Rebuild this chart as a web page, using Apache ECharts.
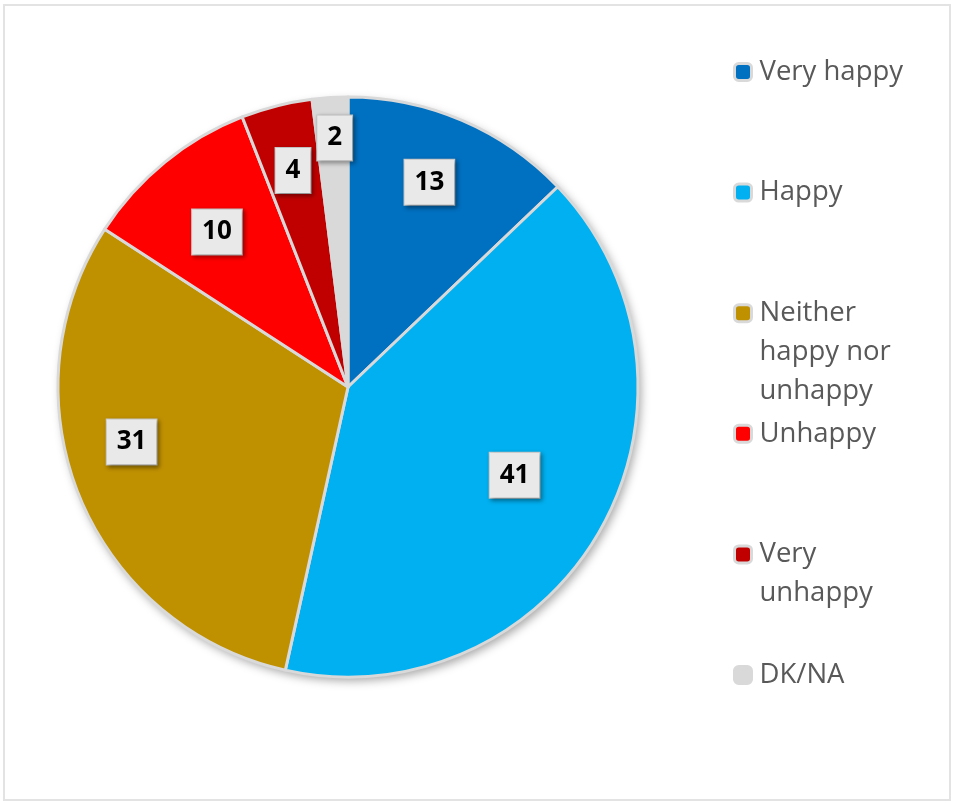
<!DOCTYPE html>
<html>
<head>
<meta charset="utf-8">
<script src="https://cdn.jsdelivr.net/npm/echarts@6/dist/echarts.min.js"></script>
<style>
html,body{margin:0;padding:0;background:#fff;}
#chart{width:953px;height:803px;}
</style>
</head>
<body>
<div id="chart"></div>
<script>
const categories = ['Very happy', 'Happy', 'Neither happy nor unhappy', 'Unhappy', 'Very unhappy', 'DK/NA'];
const legendLabels = ['Very happy', 'Happy', 'Neither\nhappy nor\nunhappy', 'Unhappy', 'Very\nunhappy', 'DK/NA'];
const values = [13, 41, 31, 10, 4, 2];
const colors = ['#0070C0', '#00B0F0', '#BF9000', '#FF0000', '#C00000', '#D9D9D9'];

// label placement styling (fraction of radius, angle shift in degrees)
const labelRadius = [0.76, 0.65, 0.77, 0.70, 0.77, 0.86];
const labelAngleShift = [-1.5, -1.5, 8, -1, 0, 0.5];

const CX = 348, CY = 387, R = 290;
const total = values.reduce((a, b) => a + b, 0);
const midAngles = [];
(function () {
  let acc = 0;
  values.forEach(v => { midAngles.push((acc + v / 2) / total * 360); acc += v; });
})();

const LH = 39;
const legendTop0 = 72, legendStep = 120.6;
const legends = categories.map((name, i) => {
  const lines = legendLabels[i].split('\n');
  const n = lines.length;
  const padded = new Array(n - 1).fill(' ').concat(lines).join('\n');
  const half = (2 * n - 1) * LH / 2;
  return {
    orient: 'vertical',
    left: 733,
    top: legendTop0 + legendStep * i - half,
    padding: 0,
    selectedMode: false,
    itemWidth: 17,
    itemHeight: 17,
    itemGap: 0,
    icon: 'roundRect',
    itemStyle: { borderColor: '#D9D9D9', borderWidth: 3 },
    data: [name],
    formatter: () => padded,
    textStyle: {
      fontFamily: 'Open Sans',
      fontSize: 27.5,
      color: '#595959',
      lineHeight: LH,
      padding: [0, 0, 0, 3]
    }
  };
});

const chart = echarts.init(document.getElementById('chart'), null, { renderer: 'canvas' });
chart.setOption({
  animation: false,
  color: colors,
  graphic: [{
    type: 'rect',
    shape: { x: 4, y: 5, width: 946, height: 795 },
    style: { fill: 'none', stroke: '#E3E3E3', lineWidth: 2 },
    z: -10
  }],
  legend: legends,
  series: [
    {
      type: 'pie',
      center: [CX, CY],
      radius: [0, R],
      silent: true,
      z: 1,
      label: { show: false },
      itemStyle: {
        color: '#D9D9D9',
        shadowBlur: 10,
        shadowColor: 'rgba(0,0,0,0.35)',
        shadowOffsetX: 3,
        shadowOffsetY: 4
      },
      data: [{ value: 1, name: '__bg' }],
      legendHoverLink: false
    },
    {
      type: 'pie',
      center: [CX, CY],
      radius: [0, R],
      startAngle: 90,
      clockwise: true,
      z: 2,
      itemStyle: { borderColor: '#D9D9D9', borderWidth: 3 },
      label: {
        show: true,
        position: 'inside',
        formatter: '{c}',
        fontFamily: 'Open Sans',
        fontWeight: 'bold',
        fontSize: 26,
        lineHeight: 26,
        color: '#000',
        backgroundColor: '#E9E9E9',
        borderColor: '#C9C9C9',
        borderWidth: 1,
        padding: [10, 10, 9, 10],
        shadowBlur: 4,
        shadowColor: 'rgba(0,0,0,0.35)',
        shadowOffsetX: 2,
        shadowOffsetY: 2
      },
      labelLine: { show: false },
      labelLayout: function (params) {
        const i = params.dataIndex;
        const a = (midAngles[i] + labelAngleShift[i]) * Math.PI / 180;
        const r = R * labelRadius[i];
        return { x: CX + Math.sin(a) * r, y: CY - Math.cos(a) * r, align: 'center', verticalAlign: 'middle' };
      },
      data: categories.map((c, i) => ({ name: c, value: values[i] }))
    }
  ]
});
</script>
</body>
</html>
